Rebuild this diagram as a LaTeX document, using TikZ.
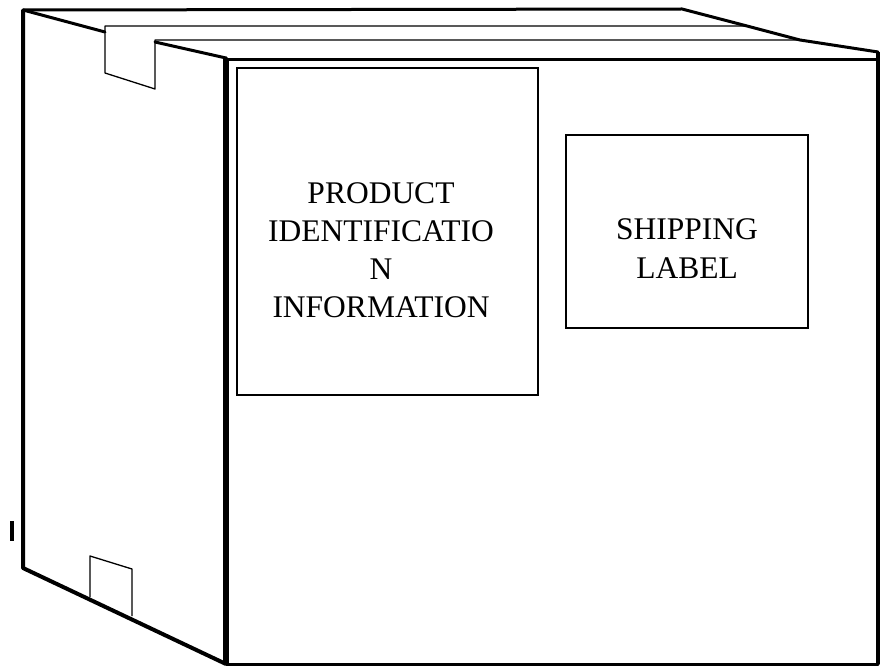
\documentclass[tikz,border=0pt]{standalone}
\usepackage{fontspec}
\setmainfont{Liberation Serif}
\usepackage{tikz}
\usetikzlibrary{positioning, calc}
\tikzstyle{edge} = [line width=3pt, line join=round, line cap=round]
\tikzstyle{fold} = [line width=1.3pt, line join=round]
\tikzstyle{tag} = [draw, line width=2pt, inner sep=0pt]
\tikzstyle{words} = [align=center, inner sep=0pt, font=\fontsize{31.5}{38}\selectfont]

\begin{document}
\begin{tikzpicture}[x=1pt, y=-1pt]
        \useasboundingbox (0,0) rectangle (880,666);
        \coordinate (back) at (23,10);
        \coordinate (ridge) at (682,9);
        \coordinate (flapA) at (747,26);
        \coordinate (flapB) at (800,40);
        \coordinate (corner) at (878,52);
        \coordinate (foot) at (878,664);
        \coordinate (base) at (226,664);
        \coordinate (top) at (226,58);
        \coordinate (low) at (23,568);
        \node[tag, minimum width=301pt, minimum height=327pt] (prod) at (387.5,231.5) {};
        \node[tag, minimum width=242pt, minimum height=193pt] (ship) at (687,231.5) {};
        \node[words] (prodtext) at (381,250.5) {PRODUCT\\IDENTIFICATIO\\N\\INFORMATION};
        \node[words, font=\fontsize{31.5}{39}\selectfont] (shiptext) at (687,248.5) {SHIPPING\\LABEL};
        \draw[edge] (back) -- (ridge) -- (flapA) -- (flapB) -- (corner);
        \draw[line width=4pt] (corner) -- (foot);
        \draw[edge] (foot) -- (base);
        \draw[line width=6pt] (base) -- (top);
        \draw[edge] (top) -- (226,60) -- (878,60);
        \draw[line width=4pt, line join=round] (back) -- (low) -- (base);
        \draw[edge] (top) -- (155,42);
        \draw[edge] (105,32) -- (back);
        \draw[fold] (flapA) -- (105,26) -- (105,73) -- (155,89) -- (155,40) -- (flapB);
        \draw[fold] (90,597) -- (90,556) -- (132,569) -- (132,616);
        \draw[line width=4pt] (12,521) -- (12,541);
      \end{tikzpicture}
\end{document}
